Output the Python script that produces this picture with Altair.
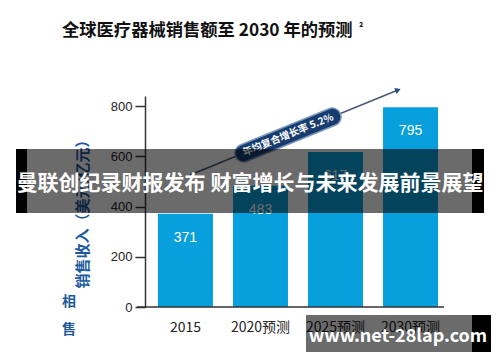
import altair as alt
import pandas as pd

categories = ["2015", "2020预测", "2025预测", "2030预测"]
sales = [371, 483, 617, 795]
y_ticks = [0, 200, 400, 600, 800]

title_text = "全球医疗器械销售额至 2030 年的预测"
note_mark = "²"
y_title = "销售收入（美元/亿元）"
cagr_text = "年均复合增长率 5.2%"
banner_text = "曼联创纪录财报发布 财富增长与未来发展前景展望"
url_text = "www.net-28lap.com"

df = pd.DataFrame({"year": categories, "sales": sales})
one = pd.DataFrame({"k": [0]})

W, H = 306, 211
FONT = "Noto Sans CJK SC"
BAR = "#08a0dc"
NAVY = "#173c70"

x = alt.X("year:N", sort=categories, title=None,
          scale=alt.Scale(paddingInner=0.267, paddingOuter=0.173),
          axis=alt.Axis(domain=False, ticks=False, labelAngle=0, labelFontSize=14,
                        labelColor="#222", labelFont=FONT, labelPadding=13))
y = alt.Y("sales:Q", scale=alt.Scale(domain=[0, 840], nice=False), title=y_title,
          axis=alt.Axis(values=y_ticks, tickSize=10, domainColor="#333", tickColor="#333",
                        domainWidth=1.5, tickWidth=1.5,
                        labelFontSize=13, labelColor="#222", labelPadding=3, labelFont="Liberation Sans",
                        grid=False, titleColor="#1c5a9c", titleFontSize=15, titleFont=FONT,
                        titleFontWeight="bold", titleX=-63, titleY=114, titleBaseline="middle",
                        titleAlign="center"))

bars = alt.Chart(df).mark_bar(color=BAR).encode(x=x, y=y)
labels = alt.Chart(df).mark_text(dy=24, color="white", fontSize=14, baseline="middle",
                                 font="Liberation Sans").encode(
    x=alt.X("year:N", sort=categories), y="sales:Q", text="sales:Q")

base = alt.Chart(one)
xaxis = base.mark_rule(color="#333", strokeWidth=1.5).encode(
    x=alt.value(-8), x2=alt.value(299), y=alt.value(H))

arrow = base.mark_rule(color="#4a5878", strokeWidth=1.5).encode(
    x=alt.value(45), y=alt.value(79), x2=alt.value(253), y2=alt.value(-6))
head = base.mark_point(shape="triangle-right", filled=True, color="#1d4a86", size=40,
                       angle=338, opacity=1).encode(x=alt.value(253), y=alt.value(-6))
box_edge = base.mark_rule(color="#7f98bb", strokeWidth=19, strokeCap="round").encode(
    x=alt.value(98.6), y=alt.value(57.1), x2=alt.value(187.4), y2=alt.value(20.9))
box = base.mark_rule(color=NAVY, strokeWidth=16, strokeCap="round").encode(
    x=alt.value(98.6), y=alt.value(57.1), x2=alt.value(187.4), y2=alt.value(20.9))
box_txt = base.mark_text(angle=338, color="white", fontSize=10, fontWeight="bold",
                         font=FONT, baseline="middle").encode(
    x=alt.value(143), y=alt.value(39), text=alt.value(cagr_text))

title = base.mark_text(align="left", baseline="middle", fontSize=17.3, fontWeight="bold",
                       font=FONT, color="#111").encode(
    x=alt.value(-83), y=alt.value(-65), text=alt.value(title_text))
sup = base.mark_text(align="left", baseline="middle", fontSize=10, fontWeight="bold",
                     font=FONT, color="#111").encode(
    x=alt.value(214), y=alt.value(-68), text=alt.value(note_mark))

ghost1 = base.mark_text(fontSize=14, fontWeight="bold", font=FONT, color="#1c5a9c").encode(
    x=alt.value(-76), y=alt.value(206), text=alt.value("相"))
ghost2 = base.mark_text(fontSize=14, fontWeight="bold", font=FONT, color="#1c5a9c").encode(
    x=alt.value(-76), y=alt.value(234), text=alt.value("售"))

ban = base.mark_rect(color="black", opacity=0.58).encode(
    x=alt.value(-118), x2=alt.value(327), y=alt.value(53), y2=alt.value(117))
ban_l = base.mark_rect(color="black").encode(
    x=alt.value(-129), x2=alt.value(-118), y=alt.value(53), y2=alt.value(117))
ban_r = base.mark_rect(color="black").encode(
    x=alt.value(327), x2=alt.value(339), y=alt.value(53), y2=alt.value(117))
ban_txt = base.mark_text(color="white", fontSize=21, fontWeight="bold", font=FONT,
                         align="center", baseline="middle").encode(
    x=alt.value(105), y=alt.value(88), text=alt.value(banner_text))

url = base.mark_rect(color="black", opacity=0.58).encode(
    x=alt.value(161), x2=alt.value(327), y=alt.value(219), y2=alt.value(257))
url_r = base.mark_rect(color="black").encode(
    x=alt.value(327), x2=alt.value(346), y=alt.value(219), y2=alt.value(257))
url_txt = base.mark_text(color="white", fontSize=18, fontWeight="bold", font=FONT,
                         align="center", baseline="middle").encode(
    x=alt.value(253), y=alt.value(241), text=alt.value(url_text))

chart = alt.layer(
    bars, labels, xaxis, arrow, head, box_edge, box, box_txt, title, sup, ghost1, ghost2,
    ban, ban_l, ban_r, ban_txt, url, url_r, url_txt
).properties(
    width=W, height=H,
    autosize=alt.AutoSizeParams(type="none"),
    padding={"left": 137, "top": 88, "right": 41, "bottom": 45},
    background="white"
).configure_view(stroke=None)

chart.save("out.html", embed_options={"renderer": "svg", "actions": False})
